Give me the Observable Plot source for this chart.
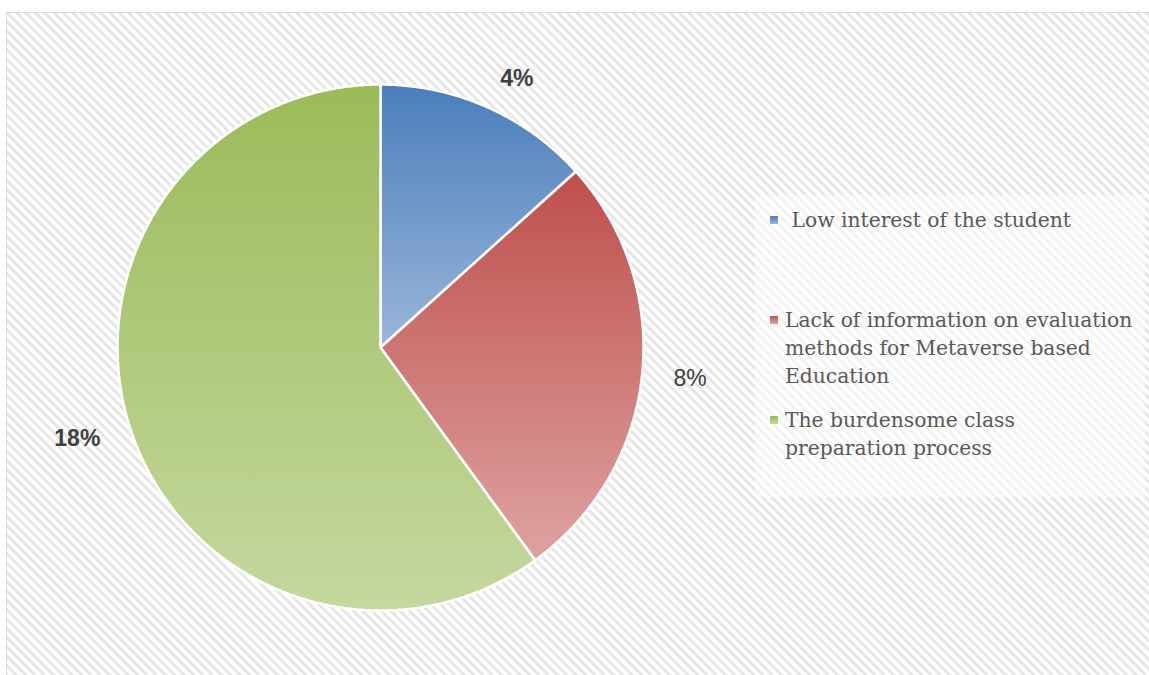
<!DOCTYPE html>
<html>
<head>
<meta charset="utf-8">
<script src="https://cdn.jsdelivr.net/npm/d3@7"></script>
<script src="https://cdn.jsdelivr.net/npm/@observablehq/plot@0.6"></script>
<style>
  html, body { margin: 0; padding: 0; background: #fff; }
  #wrap { position: relative; width: 1149px; height: 675px; overflow: hidden; background: #fff; }
  #bg { position: absolute; left: 6px; top: 12px; width: 1160px; height: 680px;
        border: 1px solid #d9d9d9; box-sizing: border-box;
        background: repeating-linear-gradient(45deg, #ffffff 0px, #ffffff 2.6px, #e6e6e6 3.6px, #e6e6e6 5.6px, #ffffff 6.6px); }
  #chart { position: absolute; left: 0; top: 0; }
  #legend { position: absolute; left: 755px; top: 195px; width: 390px; height: 302px;
            background: rgba(255,255,255,0.5); }
  .item { position: absolute; left: 30px; font-family: "DejaVu Serif", serif; font-size: 20.3px;
          line-height: 28px; color: #595959; white-space: nowrap; }
  .mk { position: absolute; width: 8px; height: 8px; left: 15px; }
</style>
</head>
<body>
<div id="wrap">
  <div id="bg"></div>
  <div id="chart"></div>
  <div id="legend"></div>
</div>
<script>
const categories = [
  "Low interest of the student",
  "Lack of information on evaluation methods for Metaverse based Education",
  "The burdensome class preparation process"
];
const values = [4, 8, 18];
const valueLabels = ["4%", "8%", "18%"];
const legendLines = [
  ["\u00a0Low interest of the student"],
  ["Lack of information on evaluation", "methods for Metaverse based", "Education"],
  ["The burdensome class", "preparation process"]
];
const topColors = ["#4a7ebb", "#be4f4c", "#9bbb59"];
const bottomColors = ["#9bb6da", "#dea3a1", "#c5d89f"];

const W = 1149, H = 675;
const cx = 380, cy = 347, R = 263;

const total = d3.sum(values);
let acc = 0;
const slices = values.map((v, i) => {
  const a0 = acc / total * 360;
  acc += v;
  const a1 = acc / total * 360;
  return { i, cat: categories[i], label: valueLabels[i], a0, a1, mid: (a0 + a1) / 2 };
});

const rad = a => a * Math.PI / 180;
const polyPts = [];
for (const s of slices) {
  polyPts.push({ cat: s.cat, fill: `url(#grad${s.i})`, x: 0, y: 0 });
  const n = Math.max(2, Math.ceil((s.a1 - s.a0) / 0.5));
  for (let k = 0; k <= n; k++) {
    const a = rad(s.a0 + (s.a1 - s.a0) * k / n);
    polyPts.push({ cat: s.cat, fill: `url(#grad${s.i})`, x: Math.sin(a), y: Math.cos(a) });
  }
}

const lr = 1.12;
const labelPts = slices.map(s => ({ ...s, x: lr * Math.sin(rad(s.mid)), y: lr * Math.cos(rad(s.mid)) }));

function defs() {
  const ns = "http://www.w3.org/2000/svg";
  const g = document.createElementNS(ns, "defs");
  slices.forEach(s => {
    const lg = document.createElementNS(ns, "linearGradient");
    lg.setAttribute("id", `grad${s.i}`);
    lg.setAttribute("x1", "0"); lg.setAttribute("y1", "0");
    lg.setAttribute("x2", "0"); lg.setAttribute("y2", "1");
    [[0, topColors[s.i]], [1, bottomColors[s.i]]].forEach(([o, c]) => {
      const st = document.createElementNS(ns, "stop");
      st.setAttribute("offset", o);
      st.setAttribute("stop-color", c);
      lg.appendChild(st);
    });
    g.appendChild(lg);
  });
  return g;
}

const font = "Liberation Sans, Arial, sans-serif";
const chart = Plot.plot({
  width: W, height: H, margin: 0,
  style: { background: "transparent", overflow: "visible" },
  x: { domain: [-cx / R, (W - cx) / R], axis: null },
  y: { domain: [-(H - cy) / R, cy / R], axis: null },
  color: { type: "identity" },
  marks: [
    defs,
    Plot.line(polyPts, { x: "x", y: "y", z: "cat", fill: "fill", stroke: "#fff", strokeWidth: 2.5,
      strokeLinejoin: "miter", curve: "linear-closed" }),
    Plot.text(labelPts.filter(d => d.x >= 0 && d.label !== "8%"), { x: "x", y: "y", text: "label", textAnchor: "start",
      fontFamily: font, fontSize: 23, fontWeight: "bold", fill: "#404040" }),
    Plot.text(labelPts.filter(d => d.label === "8%"), { x: "x", y: "y", text: "label", textAnchor: "start",
      fontFamily: font, fontSize: 23, fontWeight: "normal", fill: "#404040" }),
    Plot.text(labelPts.filter(d => d.x < 0), { x: "x", y: "y", text: "label", textAnchor: "end",
      fontFamily: font, fontSize: 23, fontWeight: "bold", fill: "#404040" })
  ]
});
document.getElementById("chart").appendChild(chart);

const legend = document.getElementById("legend");
const itemTops = [11, 111, 211];
legendLines.forEach((lines, i) => {
  const mk = document.createElement("div");
  mk.className = "mk";
  mk.style.top = (itemTops[i] + 10) + "px";
  mk.style.background = `linear-gradient(${topColors[i]}, ${bottomColors[i]})`;
  legend.appendChild(mk);
  const t = document.createElement("div");
  t.className = "item";
  t.style.top = itemTops[i] + "px";
  t.innerHTML = lines.join("<br>");
  t.title = categories[i];
  legend.appendChild(t);
});
</script>
</body>
</html>
